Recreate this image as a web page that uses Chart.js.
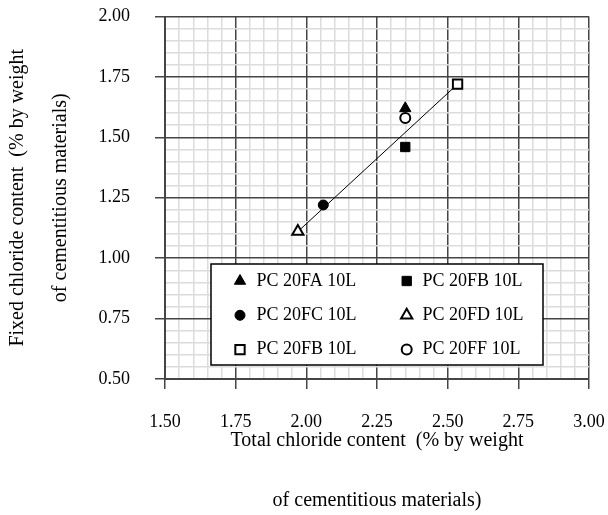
<!DOCTYPE html>
<html>
<head>
<meta charset="utf-8">
<script src="https://cdn.jsdelivr.net/npm/chart.js@4.4.0/dist/chart.umd.min.js"></script>
<style>
    html, body { margin: 0; padding: 0; background: #fff; }
    #wrap { width: 608px; height: 515px; }
</style>
</head>
<body>
<div id="wrap"><canvas id="myChart" width="608" height="515"></canvas></div>
<script>
// ===== data =====
const seriesNames = ['PC 20FA 10L', 'PC 20FB 10L', 'PC 20FC 10L', 'PC 20FD 10L', 'PC 20FB 10L', 'PC 20FF 10L'];
const totalChloride = [2.35, 2.35, 2.06, 1.97, 2.535, 2.35];
const fixedChloride = [1.62, 1.46, 1.22, 1.11, 1.72, 1.58];
const markerStyles = ['triangle', 'rect', 'circle', 'triangle', 'rect', 'circle'];
const markerFilled = [true, true, true, false, false, false];

// trend line (fitted line drawn on the figure)
const trendX = [1.97, 2.535];
const trendY = [1.11, 1.72];

const xTicks = ['1.50', '1.75', '2.00', '2.25', '2.50', '2.75', '3.00'];
const yTicks = ['0.50', '0.75', '1.00', '1.25', '1.50', '1.75', '2.00'];

const FONT = "'Liberation Serif', 'Times New Roman', serif";

function isMajor(v) {
    const q = v / 0.25;
    return Math.abs(q - Math.round(q)) < 1e-6;
}

function markerRadius(style) {
    if (style === 'rect') return 6.6;
    if (style === 'triangle') return 6.5;
    return 5;
}

const datasets = seriesNames.map((name, i) => ({
    label: name,
    data: [{ x: totalChloride[i], y: fixedChloride[i] }],
    showLine: false,
    pointStyle: markerStyles[i],
    pointRadius: markerRadius(markerStyles[i]),
    pointBackgroundColor: markerFilled[i] ? '#000' : '#fff',
    pointBorderColor: '#000',
    pointBorderWidth: markerFilled[i] ? 1 : 2,
    order: name === 'PC 20FF 10L' ? -1 : i
}));

datasets.push({
    label: 'trend',
    data: trendX.map((x, i) => ({ x: x, y: trendY[i] })),
    showLine: true,
    borderColor: '#000',
    borderWidth: 1,
    pointRadius: 0,
    order: 20
});

// legend box inside the plot, two columns
const boxLegend = {
    id: 'boxLegend',
    afterDatasetsDraw(chart) {
        const ctx = chart.ctx;
        ctx.save();
        ctx.fillStyle = '#fff';
        ctx.fillRect(211, 264, 332, 101);
        ctx.strokeStyle = '#000';
        ctx.lineWidth = 1.5;
        ctx.strokeRect(211, 264, 332, 101);

        ctx.font = '18px ' + FONT;
        ctx.textBaseline = 'middle';
        ctx.textAlign = 'left';
        seriesNames.forEach((name, i) => {
            const col = i % 2;
            const row = Math.floor(i / 2);
            const mx = 240 + col * 166.7;
            const tx = 256.5 + col * 166;
            const y = 281 + row * 34.3;
            const ds = chart.data.datasets[i];
            ctx.fillStyle = ds.pointBackgroundColor;
            ctx.strokeStyle = '#000';
            ctx.lineWidth = ds.pointBorderWidth;
            Chart.helpers.drawPoint(ctx, {
                pointStyle: ds.pointStyle,
                radius: ds.pointRadius,
                rotation: 0,
                borderWidth: ds.pointBorderWidth
            }, mx, y);
            ctx.fillStyle = '#000';
            ctx.fillText(name, tx, y);
        });
        ctx.restore();
    }
};

const gridOpts = {
    color: c => (c.tick && isMajor(c.tick.value)) ? '#454545' : '#dcdcdc',
    lineWidth: 1.5,
    tickColor: c => (c.tick && isMajor(c.tick.value)) ? '#454545' : 'rgba(0,0,0,0)',
    tickLength: 10,
    drawTicks: true
};

new Chart(document.getElementById('myChart'), {
    type: 'scatter',
    data: { datasets: datasets },
    plugins: [boxLegend],
    options: {
        responsive: false,
        animation: false,
        devicePixelRatio: 1,
        layout: { padding: 0 },
        plugins: {
            legend: { display: false },
            tooltip: { enabled: false }
        },
        scales: {
            x: {
                type: 'linear',
                position: 'bottom',
                min: 1.5,
                max: 3.0,
                afterFit: s => {
                    s.height = 136;
                    s.paddingLeft = 0;
                    s.paddingRight = 19;
                },
                ticks: {
                    stepSize: 0.05,
                    autoSkip: false,
                    maxRotation: 0,
                    padding: 22,
                    color: '#000',
                    font: { family: FONT, size: 18 },
                    callback: v => isMajor(v) ? xTicks[Math.round((v - 1.5) / 0.25)] : ''
                },
                grid: gridOpts,
                border: { color: '#454545', width: 2 },
                title: {
                    display: true,
                    text: ['Total chloride content  (% by weight', 'of cementitious materials)'],
                    color: '#000',
                    font: { family: FONT, size: 20, lineHeight: '60px' },
                    padding: { top: 0, bottom: -16 }
                }
            },
            y: {
                type: 'linear',
                position: 'left',
                min: 0.5,
                max: 2.0,
                afterFit: s => {
                    s.width = 165;
                    s.paddingTop = 16.5;
                    s.paddingBottom = 0;
                },
                ticks: {
                    stepSize: 0.05,
                    autoSkip: false,
                    padding: 25,
                    color: '#000',
                    font: { family: FONT, size: 18 },
                    callback: v => isMajor(v) ? yTicks[Math.round((v - 0.5) / 0.25)] : ''
                },
                grid: gridOpts,
                border: { color: '#454545', width: 2 },
                title: {
                    display: true,
                    text: ['Fixed chloride content  (% by weight', 'of cementitious materials)'],
                    color: '#000',
                    font: { family: FONT, size: 20, lineHeight: '43px' },
                    padding: { top: -4, bottom: 0 }
                }
            }
        }
    }
});
</script>
</body>
</html>
